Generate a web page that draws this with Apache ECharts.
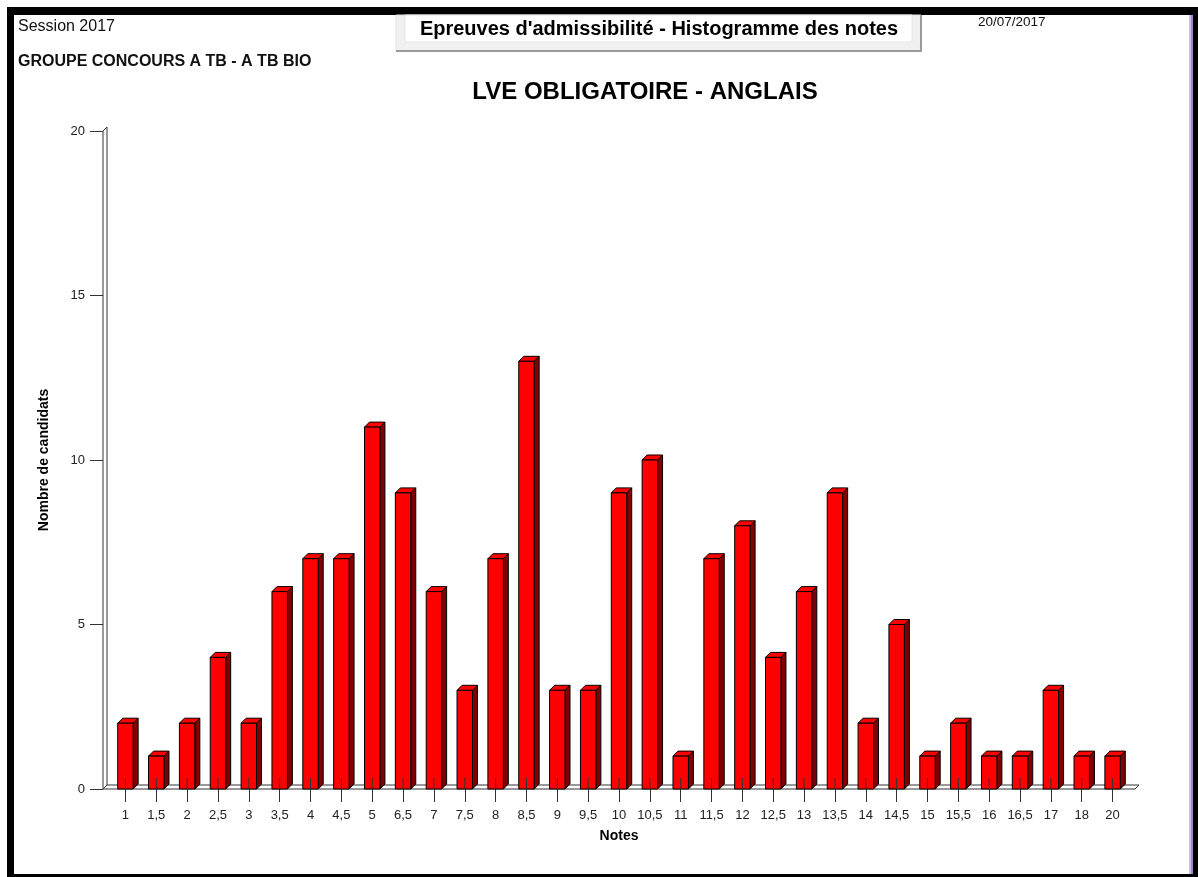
<!DOCTYPE html>
<html>
<head>
<meta charset="utf-8">
<title>Histogramme des notes</title>
<script src="https://cdn.jsdelivr.net/npm/echarts@6/dist/echarts.min.js"></script>
<style>
  html, body { margin: 0; padding: 0; background: #fff; }
  #chart { width: 1198px; height: 877px; }
</style>
</head>
<body>
<div id="chart"></div>
<script>
// notes (categories) and number of candidates per note
var notes = ['1', '1,5', '2', '2,5', '3', '3,5', '4', '4,5', '5', '6,5', '7', '7,5', '8', '8,5', '9', '9,5',
  '10', '10,5', '11', '11,5', '12', '12,5', '13', '13,5', '14', '14,5', '15', '15,5', '16', '16,5', '17', '18', '20']
var candidats = [2, 1, 2, 4, 2, 6, 7, 7, 11, 9, 6, 3, 7, 13, 3, 3,
  9, 10, 1, 7, 8, 4, 6, 9, 2, 5, 1, 2, 1, 1, 3, 1, 1]
var yTicks = [0, 5, 10, 15, 20]

var FONT = 'Arial, "Liberation Sans", sans-serif'
var DX = 5, DY = 5 // 3d depth

var chart = echarts.init(document.getElementById('chart'))

// floor + wall of the 3d axis
function renderFrame(params, api) {
  var cs = params.coordSys
  var o = api.coord([0, 0])
  var yTop = api.coord([0, yTicks[yTicks.length - 1]])[1]
  var x0 = cs.x - 7
  var x1 = cs.x + cs.width + 7
  var y0 = o[1]
  var st = { fill: '#fff', stroke: '#333', lineWidth: 1 }
  return {
    type: 'group',
    children: [
      { type: 'polygon', shape: { points: [[x0, y0], [x1, y0], [x1 + DX - 1, y0 - DY + 1], [x0 + DX - 1, y0 - DY + 1]] }, style: st },
      { type: 'polygon', shape: { points: [[x0, y0], [x0, yTop], [x0 + DX - 1, yTop - DY + 1], [x0 + DX - 1, y0 - DY + 1]] }, style: st }
    ]
  }
}

function renderBar(params, api) {
  var idx = api.value(0)
  var base = api.coord([idx, 0])
  var top = api.coord([idx, api.value(1)])
  var w = api.size([1, 0])[0] * 0.5
  var xl = base[0] - w / 2, xr = base[0] + w / 2
  var yt = top[1], yb = base[1]
  var line = { stroke: '#000', lineWidth: 1 }
  return {
    type: 'group',
    children: [
      { type: 'polygon', shape: { points: [[xr, yb], [xr, yt], [xr + DX, yt - DY], [xr + DX, yb - DY]] },
        style: Object.assign({ fill: '#800000' }, line) },
      { type: 'polygon', shape: { points: [[xl, yt], [xr, yt], [xr + DX, yt - DY], [xl + DX, yt - DY]] },
        style: Object.assign({ fill: '#ff0000' }, line) },
      { type: 'rect', shape: { x: xl, y: yt, width: w, height: yb - yt },
        style: Object.assign({ fill: '#ff0000' }, line) },
      { type: 'line', shape: { x1: base[0], y1: yb, x2: base[0], y2: yb - 11 },
        style: { stroke: '#333', lineWidth: 1 } }
    ]
  }
}

chart.setOption({
  backgroundColor: '#fff',
  animation: false,
  textStyle: { fontFamily: FONT },
  title: {
    text: 'LVE OBLIGATOIRE - ANGLAIS',
    left: 640,
    top: 75,
    textAlign: 'center',
    textStyle: { fontSize: 24, fontWeight: 'bold', color: '#000', fontFamily: FONT }
  },
  grid: { left: 110, right: 70, top: 131, bottom: 88 },
  xAxis: {
    type: 'category',
    data: notes,
    name: 'Notes',
    nameLocation: 'middle',
    nameGap: 40,
    nameTextStyle: { fontSize: 14, fontWeight: 'bold', color: '#000' },
    axisLine: { show: false },
    axisTick: { show: true, alignWithLabel: true, length: 13, lineStyle: { color: '#333' } },
    axisLabel: { fontSize: 13, color: '#222', margin: 20, interval: 0 },
    splitLine: { show: false }
  },
  yAxis: {
    type: 'value',
    min: yTicks[0],
    max: yTicks[yTicks.length - 1],
    interval: 5,
    offset: 7,
    name: 'Nombre de candidats',
    nameLocation: 'middle',
    nameGap: 52,
    nameTextStyle: { fontSize: 14, fontWeight: 'bold', color: '#000' },
    axisLine: { show: false },
    axisTick: { show: true, length: 13, lineStyle: { color: '#333' } },
    axisLabel: { fontSize: 13, color: '#222', margin: 18 },
    splitLine: { show: false }
  },
  graphic: [
    // window frame
    { type: 'rect', shape: { x: 7, y: 7, width: 1191, height: 8 }, style: { fill: '#000' } },
    { type: 'rect', shape: { x: 7, y: 7, width: 7, height: 870 }, style: { fill: '#000' } },
    { type: 'rect', shape: { x: 7, y: 874, width: 1191, height: 3 }, style: { fill: '#000' } },
    { type: 'rect', shape: { x: 1189, y: 15, width: 2, height: 859 }, style: { fill: '#cdbbe6' } },
    { type: 'rect', shape: { x: 1191, y: 15, width: 2, height: 859 }, style: { fill: '#9f86c8' } },
    { type: 'rect', shape: { x: 1193, y: 7, width: 5, height: 870 }, style: { fill: '#000' } },
    // header box
    { type: 'rect', shape: { x: 396, y: 15, width: 525, height: 36 }, style: { fill: '#f0f0f0', stroke: '#e3e3e3', lineWidth: 1 } },
    { type: 'line', shape: { x1: 396, y1: 51, x2: 922, y2: 51 }, style: { stroke: '#9a9a9a', lineWidth: 2 } },
    { type: 'line', shape: { x1: 921, y1: 15, x2: 921, y2: 52 }, style: { stroke: '#9a9a9a', lineWidth: 2 } },
    { type: 'rect', shape: { x: 405, y: 15, width: 507, height: 27 }, style: { fill: '#fff', stroke: '#e6e6e6', lineWidth: 1 } },
    { type: 'text', x: 659, y: 29, style: { text: "Epreuves d'admissibilité - Histogramme des notes", font: 'bold 20px ' + FONT, fill: '#000', align: 'center', verticalAlign: 'middle' } },
    // header texts
    { type: 'text', x: 18, y: 27, style: { text: 'Session 2017', font: '16px ' + FONT, fill: '#111', verticalAlign: 'middle' } },
    { type: 'text', x: 18, y: 62, style: { text: 'GROUPE CONCOURS A TB - A TB BIO', font: 'bold 16px ' + FONT, fill: '#111', verticalAlign: 'middle' } },
    { type: 'text', x: 978, y: 22, style: { text: '20/07/2017', font: '13.5px ' + FONT, fill: '#111', verticalAlign: 'middle' } }
  ],
  series: [
    {
      type: 'custom',
      renderItem: renderFrame,
      data: [[0, 0]],
      z: 1,
      silent: true
    },
    {
      type: 'custom',
      renderItem: renderBar,
      data: candidats.map(function (v, i) { return [i, v] }),
      encode: { x: 0, y: 1 },
      z: 2
    }
  ]
})
</script>
</body>
</html>
